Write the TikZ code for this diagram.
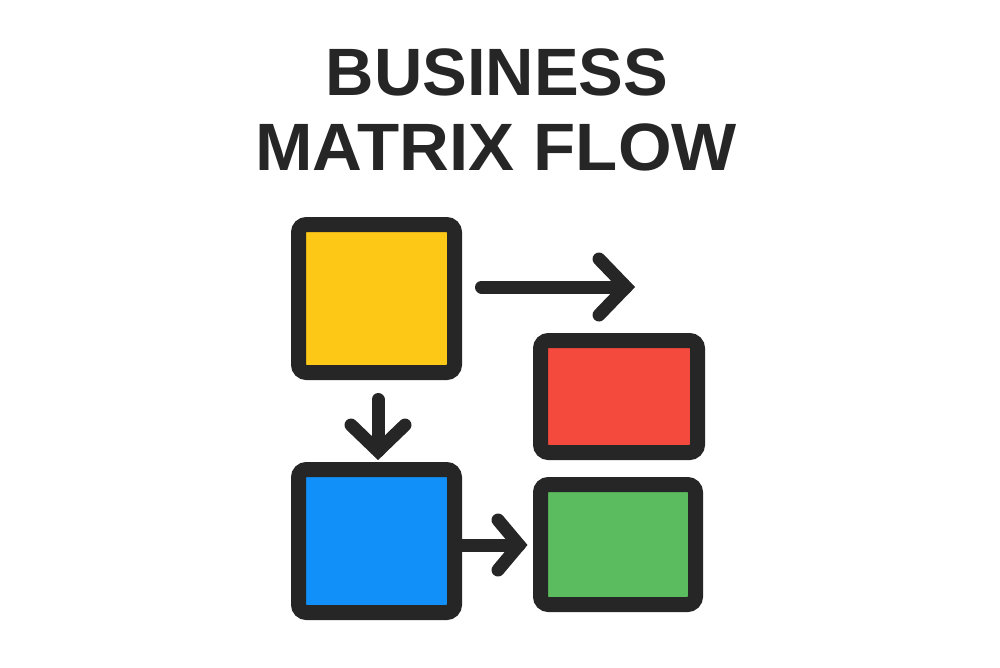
\documentclass[tikz,border=0pt]{standalone}
\usepackage{fontspec}
\setmainfont{Liberation Sans}
\definecolor{ink}{HTML}{262626}
\definecolor{cyellow}{HTML}{FDC816}
\definecolor{cred}{HTML}{F44A3E}
\definecolor{cblue}{HTML}{1090F8}
\definecolor{cgreen}{HTML}{5ABC5E}
\tikzset{
  box/.style={draw=ink, line width=15pt, rounded corners=8pt, inner sep=0pt, outer sep=0pt},
  flowline/.style={draw=ink, line width=13pt, line cap=round, line join=miter},
  titletext/.style={text=ink, inner sep=0pt, anchor=base, font=\fontsize{67}{75}\selectfont\bfseries}
}
\begin{document}
\begin{tikzpicture}[x=1pt,y=-1pt]
\useasboundingbox (0,0) rectangle (1000,667);
\fill[white] (0,0) rectangle (1000,667);
% title
\node[titletext] (t1) at (497,95) {BUSINESS};
\node[titletext] (t2) at (496,170) {\scalebox{1.03}[1]{MATRIX FLOW}};
% boxes
\node[box, fill=cyellow, minimum width=156pt, minimum height=148pt] (Y) at (376.5,298.5) {};
\node[box, fill=cblue, minimum width=156pt, minimum height=143pt] (B) at (376.5,541) {};
\node[box, fill=cred, minimum width=157pt, minimum height=112pt] (R) at (619,396.5) {};
\node[box, fill=cgreen, minimum width=155pt, minimum height=120pt] (G) at (618,544.5) {};
% free arrow end
\coordinate (topTip) at (626,287);
\coordinate (downTip) at (378,451);
\coordinate (rightTip) at (519,545);
% top arrow from yellow
\draw[flowline] (Y.east |- topTip) ++(27,0) -- (topTip);
\draw[flowline] ([shift={(-27,-28)}]topTip) -- (topTip) -- ([shift={(-27,28)}]topTip);
% down arrow yellow -> blue
\draw[flowline] ([yshift=-27pt]Y.south -| downTip) -- (downTip);
\draw[flowline] ([shift={(-27,-26)}]downTip) -- (downTip) -- ([shift={(27,-26)}]downTip);
% right arrow blue -> green
\draw[flowline] (B.east |- rightTip) -- (rightTip);
\draw[flowline] ([shift={(-21,-25)}]rightTip) -- (rightTip) -- ([shift={(-21,25)}]rightTip);
\end{tikzpicture}
\end{document}
